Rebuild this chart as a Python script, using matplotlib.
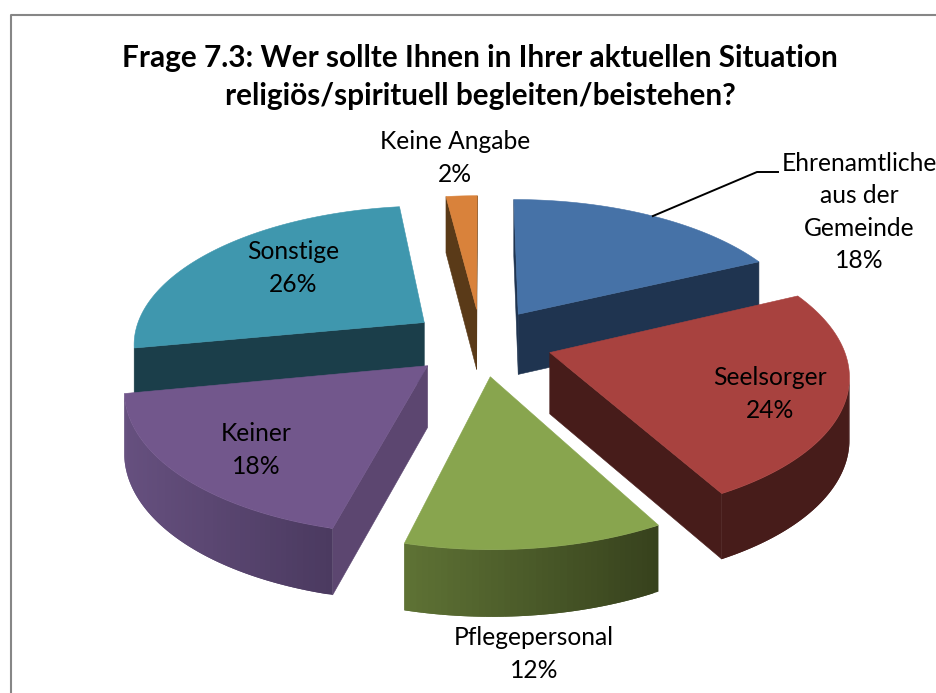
#!/usr/bin/env python3
""" Frage 7.3: exploded 3D pie, drawn by hand because matplotlib has no 3D pie """

import numpy as np
import matplotlib
matplotlib.use('Agg')
import matplotlib.pyplot as plt
from matplotlib.colors import to_rgb
from matplotlib.patches import Polygon

categories = ["Ehrenamtliche\naus der\nGemeinde", "Seelsorger", "Pflegepersonal",
              "Keiner", "Sonstige", "Keine Angabe"]
values = [18, 24, 12, 18, 26, 2]

top_colors = ["#4672a7", "#a8423f", "#88a54e", "#72578c", "#3f97ae", "#d9823b"]
face_colors = ["#1f3450", "#471c1a", "#37421d", "#5c4670", "#1b3e4a", "#5a3a18"]
wall_left = ["#1f3450", "#471c1a", "#5f7335", "#66507f", "#1b3e4a", "#5a3a18"]
wall_right = ["#1f3450", "#471c1a", "#37421d", "#4b3a60", "#1b3e4a", "#5a3a18"]
label_pos = [(859, 212), (770, 394), (534, 654), (256, 450), (293, 268), (455, 158)]

CX, CY = 481, 342
RX, RY = 292, 138
PERSP = 0.14
DEPTH = 61
EXPLODE = 0.245


def project(x, y, drop=0.0):
    """ Disc coordinates (y to the back) to picture pixels. """
    s = 1 / (1 + PERSP * y)
    return CX + RX * x * s, CY - RY * y * s + DEPTH * drop * np.sqrt(s)


def slice_shape(start, end):
    """ Apex and rim of one exploded slice in disc coordinates. """
    mid = (start + end) / 2
    ax0, ay0 = EXPLODE * np.sin(mid), EXPLODE * np.cos(mid)
    n = max(int(np.degrees(end - start)), 6)
    th = np.linspace(start, end, n)
    return ax0, ay0, ax0 + np.sin(th), ay0 + np.cos(th)


def radial_face(ax, apex, rim, inner, color):
    """ Cut face under one radial edge, when it looks at the viewer. """
    a, r, i = project(*apex), project(*rim), project(*inner)
    ex, ey = r[0] - a[0], r[1] - a[1]
    side = ex * (i[1] - a[1]) - ey * (i[0] - a[0])
    if side * ex > 0:
        return
    pts = [a, r, project(*rim, 1), project(*apex, 1)]
    ax.add_patch(Polygon(pts, fc=color, ec=color, lw=0.4))


def draw_slice(ax, i, start, end):
    ax0, ay0, xs, ys = slice_shape(start, end)
    mid = len(xs) // 2
    inner = (ax0 + 0.5 * np.sin((start + end) / 2), ay0 + 0.5 * np.cos((start + end) / 2))
    radial_face(ax, (ax0, ay0), (xs[0], ys[0]), inner, face_colors[i])
    radial_face(ax, (ax0, ay0), (xs[-1], ys[-1]), inner, face_colors[i])

    top = [project(x, y) for x, y in zip(xs, ys)]
    low = [project(x, y, 1) for x, y in zip(xs, ys)]
    left, right = np.array(to_rgb(wall_left[i])), np.array(to_rgb(wall_right[i]))
    x_min = min(p[0] for p in top)
    span = max(p[0] for p in top) - x_min
    # each strip runs over the next one so no seams show between them
    for j in range(len(top) - 1):
        if top[j + 1][0] >= top[j][0]:
            continue
        k = min(j + 2, len(top) - 1)
        if top[k][0] >= top[j + 1][0]:
            k = j + 1
        t = (top[j][0] - x_min) / span
        c = left + (right - left) * t
        pts = [top[j], top[j + 1], top[k], low[k], low[j + 1], low[j]]
        ax.add_patch(Polygon(pts, fc=c, ec="none"))

    ax.add_patch(Polygon([project(ax0, ay0)] + top, fc=top_colors[i],
                         ec=top_colors[i], lw=0.4))
    return top[mid]


plt.rcParams['font.family'] = ['Lato', 'DejaVu Sans']
fig = plt.figure(figsize=(9.37, 6.93), dpi=100)
ax = fig.add_axes([0, 0, 1, 1])
ax.set_xlim(0, 937)
ax.set_ylim(693, 0)
ax.set_axis_off()

ax.plot([11.5, 11.5, 937], [693, 15, 15], color="#868686", lw=1.5)

edges = np.radians(np.cumsum([0] + values) * 3.6)
mids = (edges[:-1] + edges[1:]) / 2
order = np.argsort(-np.cos(mids))
rim_mid = {}
for i in order:
    rim_mid[i] = draw_slice(ax, i, edges[i], edges[i + 1])

ax.plot([rim_mid[0][0], 757, 778], [rim_mid[0][1], 172, 172], color="black", lw=1.4)

ax.text(480, 77, "Frage 7.3: Wer sollte Ihnen in Ihrer aktuellen Situation\n"
        "religiös/spirituell begleiten/beistehen?", ha="center", va="center",
        fontsize=21.4, fontweight="bold", linespacing=1.42)

for name, val, (x, y) in zip(categories, values, label_pos):
    ax.text(x, y, f"{name}\n{val}%", ha="center", va="center", fontsize=17.7,
            linespacing=1.5, color="black")

fig.savefig("out.png", dpi=100)
